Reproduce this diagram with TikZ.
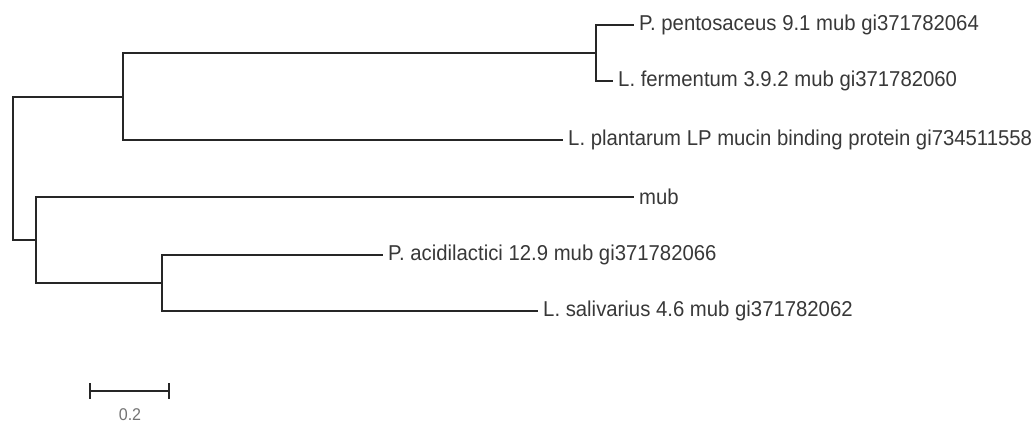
\documentclass[tikz,border=0pt]{standalone}
\usepackage{fontspec}
\setmainfont[FakeStretch=0.945]{Liberation Sans}
\begin{document}
\begin{tikzpicture}[x=1pt,y=-1pt,
  br/.style={line width=1.3pt, draw=black!85, line cap=rect},
  lab/.style={anchor=west, inner xsep=6pt, inner ysep=0pt, text=black!78,
    font=\fontsize{21.5}{21.5}\selectfont},
  sbtxt/.style={inner sep=0pt, text=black!55, font=\fontsize{17}{17}\selectfont}]
\useasboundingbox (0,0) rectangle (1032,429);
% internal nodes
\coordinate (root) at (13,168);
\coordinate (n1) at (123,97);
\coordinate (n2) at (596,53);
\coordinate (n3) at (36,240);
\coordinate (n4) at (162,283);
% leaves
\node[lab] (l1) at (633,25) {P. pentosaceus 9.1 mub gi371782064};
\node[lab] (l2) at (612,81) {L. fermentum 3.9.2 mub gi371782060};
\node[lab] (l3) at (562,140) {L. plantarum LP mucin binding protein gi734511558};
\node[lab] (l4) at (633,197) {mub};
\node[lab] (l5) at (382,255) {P. acidilactici 12.9 mub gi371782066};
\node[lab] (l6) at (537,311) {L. salivarius 4.6 mub gi371782062};
% branches
\draw[br] (root) |- (n1);
\draw[br] (root) |- (n3);
\draw[br] (n1) |- (n2);
\draw[br] (n1) |- (l3.west);
\draw[br] (n2) |- (l1.west);
\draw[br] (n2) |- (l2.west);
\draw[br] (n3) |- (l4.west);
\draw[br] (n3) |- (n4);
\draw[br] (n4) |- (l5.west);
\draw[br] (n4) |- (l6.west);
% scale bar
\coordinate (sa) at (90,391);
\coordinate (sb) at (169,391);
\draw[br] (sa) -- (sb);
\draw[br] ([yshift=-7pt]sa) -- ([yshift=7pt]sa);
\draw[br] ([yshift=-7pt]sb) -- ([yshift=7pt]sb);
\node[sbtxt] (sl) at (130,415) {0.2};
\end{tikzpicture}
\end{document}
